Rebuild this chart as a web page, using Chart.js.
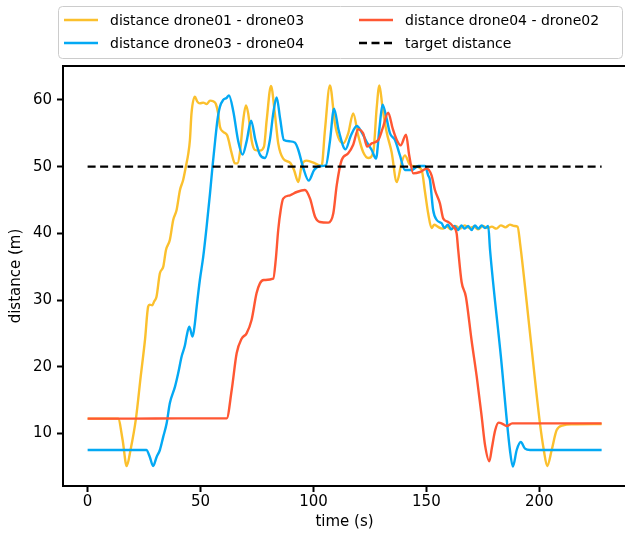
<!DOCTYPE html>
<html lang="en">
<head>
  <meta charset="UTF-8">
  <title>Drone distances</title>
  <script src="https://cdn.jsdelivr.net/npm/chart.js"></script>
  <style>
    html, body {
      margin: 0;
      padding: 0;
      overflow: hidden;
      background: #fff;
    }
    #distChart {
      display: block;
    }
  </style>
</head>
<body>
  <canvas id="distChart" width="640" height="535"></canvas>

  <script>
    // time (s) / distance (m)
    const t13 = [0, 13.5, 15.5, 17.3, 19, 21.4, 23.5, 25.4, 26.8, 27.5, 28.6, 29.5, 30.5, 32, 33.5, 34.7, 36.4, 37.9, 39.4, 40.9, 42.3, 43.5, 44.6, 45.3, 46, 47.5, 48.5, 49.7, 51.2, 52.7, 54.2, 55.6, 56.8, 57.8, 58.6, 60.1, 61.8, 63.8, 65.2, 66.3, 67.4, 68.9, 70.1, 71.1, 72.6, 74.1, 76.3, 78.1, 79.3, 81.2, 82.9, 84.4, 86.6, 89.6, 91.4, 93.3, 94.8, 97, 100.7, 103.6, 105.1, 107.3, 109.5, 111, 113.2, 115.4, 117.6, 119.8, 122, 124.3, 126.5, 128, 129.2, 130.6, 132.4, 134.6, 136.9, 139.1, 140.5, 142.7, 145.7, 147.9, 149.4, 150.8, 152.3, 153.5, 155, 157, 159, 161, 163, 165, 167, 169, 171, 173, 175, 177, 179, 181, 183, 185, 187, 189, 190.4, 191.5, 195.9, 200.3, 202, 203.5, 205.5, 207.7, 210.6, 215, 227.6];
    const d13 = [12.2, 12.2, 9, 5.1, 7.5, 12.2, 18.5, 24, 29, 29.3, 29.2, 29.8, 30.5, 34, 35, 37.5, 39, 42, 43.5, 46.5, 48, 50, 52, 54, 58, 60.5, 59.8, 59.5, 59.6, 59.4, 59.9, 59.8, 59.4, 58, 56, 55.2, 54.7, 52, 50.5, 50.5, 52, 57, 59.2, 58, 54, 52.5, 52.4, 53, 57, 62.1, 58, 53.5, 51.2, 50.6, 49.5, 47.7, 50.2, 50.9, 50.5, 50.1, 55.5, 62.2, 56.5, 54.4, 53.5, 55, 58, 54.7, 52.2, 51.3, 52.2, 58.8, 62.2, 58.8, 55.2, 52.2, 47.7, 50.7, 51.7, 50.3, 50, 49.5, 46.2, 43, 40.8, 41.3, 41, 40.7, 41, 40.6, 41.1, 40.7, 41.2, 40.8, 41, 40.6, 41.1, 40.8, 41, 40.7, 41.2, 40.9, 41.3, 41.1, 41, 38.5, 25, 11.5, 7.5, 5.1, 7.5, 10.5, 11.2, 11.35, 11.4];

    const t34 = [0, 26, 27.5, 29, 30.6, 32, 33.5, 35, 36.4, 38.7, 40.1, 41.6, 43.1, 43.8, 45, 46.5, 47.5, 48.3, 49.7, 51.2, 52.7, 54.2, 55.3, 56.5, 57.5, 58.6, 60, 61.5, 62.6, 64.5, 66.7, 68.6, 70.4, 72.4, 74.3, 76.3, 78.5, 80.7, 82.2, 83.7, 85.2, 86.9, 89.6, 91.8, 93.3, 95.5, 97.9, 100.3, 102.9, 105.5, 107.3, 109.1, 111.2, 114.2, 116.5, 119.2, 121.3, 123.6, 125.8, 127.7, 129.2, 130.6, 132.4, 133.9, 136.1, 138.3, 140.5, 143.5, 146.4, 149.4, 150.8, 151.6, 153, 154.6, 156.8, 158, 159.5, 161, 162.5, 164, 165.5, 167, 168.5, 170, 171.5, 173, 174.5, 176, 177.4, 178.2, 183, 187, 188.3, 190, 191.8, 193.7, 195.9, 227.6];
    const d34 = [7.5, 7.5, 6.5, 5.1, 6.5, 7.5, 9.5, 11.5, 14.5, 17, 19, 21.5, 23.2, 24.5, 26, 24.5, 26.5, 29, 33, 36.5, 41, 46, 50, 54, 57, 59, 60, 60.3, 60.7, 58.3, 53.8, 51.8, 53.8, 56.9, 54, 51.8, 51.3, 54, 58, 60.4, 57.3, 54, 53.8, 53.6, 52.5, 49.8, 47.9, 49.5, 50.1, 50.2, 53.8, 58.7, 55.4, 52.6, 54.6, 56.1, 55.2, 53.7, 52.5, 51.2, 55.7, 59.3, 57.2, 55, 54, 51.7, 49.5, 49.5, 50.1, 50.1, 48.7, 48, 43.5, 42, 41.5, 40.8, 41.3, 40.6, 41.1, 40.5, 41.2, 40.7, 41.1, 40.5, 41.2, 40.7, 41.2, 40.8, 41.1, 37.5, 21.5, 7.5, 5, 7.5, 8.7, 7.7, 7.5, 7.5];

    const t42 = [0, 20, 40, 61.6, 63.8, 66, 68.2, 70.4, 72.6, 74.8, 76.3, 78, 82.2, 83.3, 84.4, 85.5, 86.6, 89.6, 92.6, 96.2, 98.5, 100.7, 102.9, 106.6, 108.8, 110.3, 112.5, 115.4, 117.6, 119.8, 122, 123.8, 125.8, 128.7, 130.6, 133.1, 135.1, 136.9, 138.6, 141, 142.4, 144.2, 147.2, 150.1, 152.3, 153.8, 156, 157.5, 159.7, 161.9, 163.4, 164.1, 165.6, 167.5, 170, 172.3, 174.5, 176, 177.9, 179, 180.5, 182, 183.3, 185.6, 188, 227.6];
    const d42 = [12.2, 12.2, 12.25, 12.25, 16.5, 22, 24.2, 25, 27, 31, 32.5, 33, 33.2, 36, 40.5, 43.5, 45.2, 45.7, 46.2, 46.5, 45.2, 42.5, 41.7, 41.6, 43, 47.2, 51, 52, 53.3, 55.6, 55, 53, 53.5, 54, 55.7, 58.1, 55.7, 54, 53.2, 54.8, 51.7, 49, 49.2, 49.7, 48.7, 46.5, 44.5, 42.2, 41.7, 41, 40, 37.5, 32.7, 30.5, 24, 18.5, 12.5, 8.2, 5.8, 7.8, 10.5, 11.6, 11.5, 11.1, 11.5, 11.5];

    const tTarget = [0, 227.6];
    const dTarget = [50, 50];

    const xTicks = [0, 50, 100, 150, 200];
    const yTicks = [10, 20, 30, 40, 50, 60];

    const toPoints = (ts, vs) => ts.map((t, i) => ({ x: t, y: vs[i] }));
    const axisFont = { family: 'DejaVu Sans', size: 15 };

    // matplotlib-ish frame + legend box above the axes
    const framePlugin = {
      id: 'frame',
      afterDatasetsDraw(chart) {
        const { ctx, chartArea: a } = chart;
        ctx.save();
        ctx.strokeStyle = '#000';
        ctx.lineWidth = 2;
        ctx.strokeRect(a.left, a.top, a.right - a.left, a.bottom - a.top);
        ctx.restore();
      },
      afterDraw(chart) {
        const ctx = chart.ctx;
        const ds = chart.data.datasets;
        ctx.save();
        ctx.fillStyle = 'rgba(255,255,255,0.8)';
        ctx.strokeStyle = '#cccccc';
        ctx.lineWidth = 1;
        ctx.beginPath();
        ctx.roundRect(58.5, 6.5, 564, 52, 4);
        ctx.fill();
        ctx.stroke();

        const cols = [64, 359];
        const rows = [20, 43];
        ctx.font = '14px "DejaVu Sans"';
        ctx.textBaseline = 'middle';
        ds.forEach((d, i) => {
          const cx = cols[Math.floor(i / 2)];
          const cy = rows[i % 2];
          ctx.strokeStyle = d.borderColor;
          ctx.lineWidth = d.borderWidth;
          ctx.setLineDash(d.borderDash || []);
          ctx.beginPath();
          ctx.moveTo(cx, cy);
          ctx.lineTo(cx + 34, cy);
          ctx.stroke();
          ctx.setLineDash([]);
          ctx.fillStyle = '#000';
          ctx.fillText(d.label, cx + 46, cy + 1);
        });
        ctx.restore();
      }
    };

    const lineOpts = {
      pointRadius: 0,
      borderWidth: 2.4,
      fill: false,
      cubicInterpolationMode: 'monotone'
    };

    new Chart(document.getElementById('distChart'), {
      type: 'line',
      data: {
        datasets: [
          { ...lineOpts, label: 'distance drone01 - drone03', data: toPoints(t13, d13), borderColor: '#fbc02d', order: 4 },
          { ...lineOpts, label: 'distance drone03 - drone04', data: toPoints(t34, d34), borderColor: '#03a9f4', order: 3 },
          { ...lineOpts, label: 'distance drone04 - drone02', data: toPoints(t42, d42), borderColor: '#ff5733', order: 2 },
          { ...lineOpts, label: 'target distance', data: toPoints(tTarget, dTarget), borderColor: '#000', borderDash: [8, 4.5], order: 1 }
        ]
      },
      options: {
        responsive: false,
        animation: false,
        devicePixelRatio: 1,
        layout: { padding: { top: 66, right: 14, left: 0, bottom: 0 } },
        plugins: {
          legend: { display: false },
          tooltip: { enabled: false }
        },
        scales: {
          x: {
            type: 'linear',
            min: -10.9,
            max: 238.4,
            afterFit: s => { s.height = 49; },
            afterBuildTicks: s => { s.ticks = xTicks.map(v => ({ value: v })); },
            ticks: { font: axisFont, color: '#000', padding: 1, maxRotation: 0 },
            grid: { drawOnChartArea: false, drawTicks: true, tickLength: 6, tickColor: '#000', tickWidth: 2 },
            border: { display: true, color: '#000', width: 2 },
            title: { display: true, text: 'time (s)', font: axisFont, color: '#000', padding: { top: 0, bottom: 4 } }
          },
          y: {
            type: 'linear',
            min: 2.1,
            max: 65.1,
            afterFit: s => { s.width = 63; },
            afterBuildTicks: s => { s.ticks = yTicks.map(v => ({ value: v })); },
            ticks: { font: axisFont, color: '#000', padding: 5 },
            grid: { drawOnChartArea: false, drawTicks: true, tickLength: 6, tickColor: '#000', tickWidth: 2 },
            border: { display: true, color: '#000', width: 2 },
            title: { display: true, text: 'distance (m)', font: axisFont, color: '#000', padding: { top: 7, bottom: 0 } }
          }
        }
      },
      plugins: [framePlugin]
    });
  </script>
</body>
</html>
